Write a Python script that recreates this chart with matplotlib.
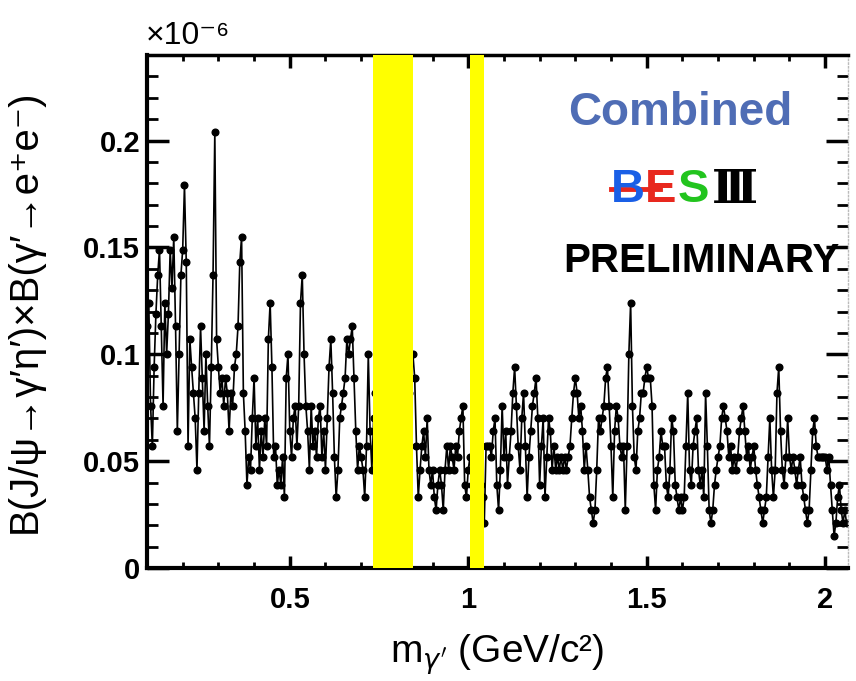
import numpy as np
import matplotlib
matplotlib.use("Agg")
import matplotlib.pyplot as plt
from matplotlib.ticker import MultipleLocator, FixedFormatter, FixedLocator
from matplotlib.lines import Line2D

# scan in m_gamma' (GeV/c^2), upper limits in units of 1e-6
mass = np.round(np.arange(0.100, 2.0601, 0.005), 3)
limit = [
    0.113, 0.124, 0.076, 0.057, 0.094, 0.119, 0.137, 0.149, 0.113, 0.076,
    0.124, 0.100, 0.119, 0.149, 0.131, 0.155, 0.113, 0.064, 0.100, 0.137,
    0.149, 0.179, 0.143, 0.057, 0.107, 0.094, 0.082, 0.070, 0.046, 0.082,
    0.113, 0.089, 0.064, 0.100, 0.076, 0.057, 0.094, 0.137, 0.204, 0.107,
    0.094, 0.082, 0.089, 0.076, 0.089, 0.082, 0.064, 0.082, 0.076, 0.094,
    0.100, 0.113, 0.143, 0.155, 0.082, 0.064, 0.039, 0.052, 0.046, 0.070,
    0.089, 0.057, 0.070, 0.046, 0.064, 0.052, 0.070, 0.057, 0.107, 0.124,
    0.094, 0.052, 0.057, 0.039, 0.046, 0.039, 0.052, 0.033, 0.089, 0.100,
    0.064, 0.052, 0.070, 0.076, 0.057, 0.076, 0.124, 0.137, 0.100, 0.076,
    0.064, 0.046, 0.076, 0.057, 0.064, 0.052, 0.070, 0.076, 0.052, 0.064,
    0.046, 0.070, 0.094, 0.107, 0.082, 0.052, 0.033, 0.046, 0.070, 0.076,
    0.082, 0.089, 0.107, 0.100, 0.107, 0.113, 0.089, 0.064, 0.046, 0.057,
    0.052, 0.046, 0.033, 0.057, 0.100, 0.064, 0.046, 0.070, 0.082, 0.064,
    0.064, 0.076, 0.057, 0.070, 0.082, 0.064, 0.052, 0.070, 0.076, 0.064,
    0.057, 0.070, 0.064, 0.082, 0.076, 0.064, 0.070, 0.082, 0.089, 0.100,
    0.089, 0.057, 0.033, 0.046, 0.057, 0.064, 0.052, 0.070, 0.046, 0.039,
    0.046, 0.033, 0.027, 0.039, 0.046, 0.039, 0.027, 0.046, 0.057, 0.046,
    0.057, 0.052, 0.046, 0.057, 0.052, 0.064, 0.070, 0.076, 0.039, 0.033,
    0.046, 0.052, 0.039, 0.046, 0.052, 0.057, 0.046, 0.039, 0.033, 0.021,
    0.057, 0.057, 0.057, 0.052, 0.064, 0.070, 0.039, 0.027, 0.046, 0.076,
    0.052, 0.064, 0.039, 0.052, 0.064, 0.082, 0.094, 0.076, 0.057, 0.046,
    0.070, 0.082, 0.057, 0.033, 0.052, 0.064, 0.076, 0.082, 0.089, 0.070,
    0.039, 0.057, 0.070, 0.033, 0.052, 0.070, 0.064, 0.046, 0.057, 0.046,
    0.052, 0.046, 0.052, 0.046, 0.052, 0.046, 0.052, 0.057, 0.070, 0.082,
    0.089, 0.082, 0.070, 0.076, 0.064, 0.046, 0.057, 0.046, 0.033, 0.027,
    0.021, 0.027, 0.046, 0.070, 0.064, 0.070, 0.076, 0.089, 0.094, 0.076,
    0.057, 0.033, 0.064, 0.076, 0.070, 0.057, 0.052, 0.057, 0.027, 0.057,
    0.100, 0.124, 0.076, 0.052, 0.046, 0.064, 0.070, 0.082, 0.082, 0.089,
    0.094, 0.089, 0.089, 0.076, 0.039, 0.027, 0.046, 0.052, 0.064, 0.057,
    0.057, 0.039, 0.033, 0.046, 0.070, 0.064, 0.039, 0.033, 0.027, 0.033,
    0.027, 0.033, 0.057, 0.082, 0.046, 0.039, 0.057, 0.064, 0.070, 0.046,
    0.039, 0.046, 0.033, 0.082, 0.057, 0.027, 0.021, 0.027, 0.039, 0.046,
    0.052, 0.057, 0.070, 0.076, 0.070, 0.064, 0.052, 0.057, 0.046, 0.052,
    0.046, 0.052, 0.064, 0.070, 0.076, 0.064, 0.052, 0.057, 0.046, 0.052,
    0.057, 0.046, 0.039, 0.033, 0.027, 0.021, 0.027, 0.033, 0.052, 0.070,
    0.046, 0.033, 0.046, 0.082, 0.094, 0.064, 0.046, 0.039, 0.052, 0.070,
    0.052, 0.046, 0.052, 0.046, 0.039, 0.046, 0.052, 0.039, 0.033, 0.027,
    0.021, 0.027, 0.046, 0.064, 0.070, 0.057, 0.052, 0.052, 0.052, 0.052,
    0.052, 0.046, 0.052, 0.039, 0.027, 0.015, 0.021, 0.033, 0.039, 0.027,
    0.021, 0.027, 0.021,
]
veto_bands = [(0.733, 0.845), (1.005, 1.044)]
xtick_vals = [0.5, 1.0, 1.5, 2.0]
xtick_labels = ["0.5", "1", "1.5", "2"]
ytick_vals = [0.0, 0.05, 0.1, 0.15, 0.2]
ytick_labels = ["0", "0.05", "0.1", "0.15", "0.2"]

bold_font = ["Liberation Sans", "DejaVu Sans"]
plain_font = ["Liberation Sans", "DejaVu Sans"]

fig = plt.figure(figsize=(8.56, 6.81), dpi=100)
ax = fig.add_axes([147/856, 1 - 568/681, (848-147)/856, (568-55)/681])

ax.plot(mass, limit, "-o", color="black", lw=1.2, ms=4.8, zorder=2)
for lo, hi in veto_bands:
    ax.axvspan(lo, hi, color="#ffff00", zorder=3, lw=0)

ax.set_xlim(0.1, 2.064)
ax.set_ylim(0, 0.24)

ax.xaxis.set_major_locator(FixedLocator(xtick_vals))
ax.xaxis.set_major_formatter(FixedFormatter(xtick_labels))
ax.xaxis.set_minor_locator(MultipleLocator(0.1))
ax.yaxis.set_major_locator(FixedLocator(ytick_vals))
ax.yaxis.set_major_formatter(FixedFormatter(ytick_labels))
ax.yaxis.set_minor_locator(MultipleLocator(0.01))

ax.tick_params(axis="both", which="both", direction="in", top=True, right=True, colors="black")
ax.tick_params(axis="x", which="major", length=9, width=2.5, pad=13)
ax.tick_params(axis="x", which="minor", length=4, width=2)
ax.tick_params(axis="y", which="major", length=16, width=2.5, pad=5)
ax.tick_params(axis="y", which="minor", length=8, width=2)
for lab in ax.get_xticklabels() + ax.get_yticklabels():
    lab.set_fontfamily(bold_font)
    lab.set_fontweight("bold")
    lab.set_fontsize(21)

for side in ["left", "bottom"]:
    ax.spines[side].set_linewidth(3)
ax.spines["top"].set_linewidth(2.5)
ax.spines["right"].set_color("#bbbbbb")
ax.spines["right"].set_linestyle(":")
ax.spines["right"].set_linewidth(1)

ax.set_ylabel("B(J/\u03c8\u2192\u03b3\u2032\u03b7\u2032)\u00d7B(\u03b3\u2032\u2192e\u207ae\u207b)",
              fontsize=29, family=plain_font)
ax.yaxis.set_label_coords(-0.148, 0.5)
ax.set_xlabel("m$_{\\gamma'}$ (GeV/c\u00b2)", fontsize=28, family=plain_font)
ax.xaxis.set_label_coords(0.5, -0.125)

fig.text(146/856, 1 - 36/681, "\u00d710\u207b\u2076", fontsize=23, family=bold_font,
         ha="left", va="center")

fig.text(680/856, 1 - 113/681, "Combined", fontsize=33, fontweight="bold",
         color="#4f6db5", family=plain_font, ha="center", va="center")
fig.text(701/856, 1 - 261/681, "PRELIMINARY", fontsize=29, fontweight="bold",
         color="black", family=plain_font, ha="center", va="center")

# BESIII logo
logo_y = 1 - 190/681
fig.text(611/856, logo_y, "B", fontsize=34, fontweight="bold", color="#1a5fe6",
         family=bold_font, ha="left", va="center")
fig.text(645/856, logo_y, "E", fontsize=34, fontweight="bold", color="#e8281e",
         family=bold_font, ha="left", va="center")
fig.text(678/856, logo_y, "S", fontsize=34, fontweight="bold", color="#22c41e",
         family=bold_font, ha="left", va="center")
fig.text(712/856, logo_y, "\u2162", fontsize=33, fontweight="bold", color="black",
         family=["DejaVu Serif"], ha="left", va="center")
fig.add_artist(Line2D([611/856, 660/856], [logo_y + 0.001, logo_y + 0.001],
                      color="#e8281e", lw=3.5))

fig.savefig("out.png", dpi=100)
